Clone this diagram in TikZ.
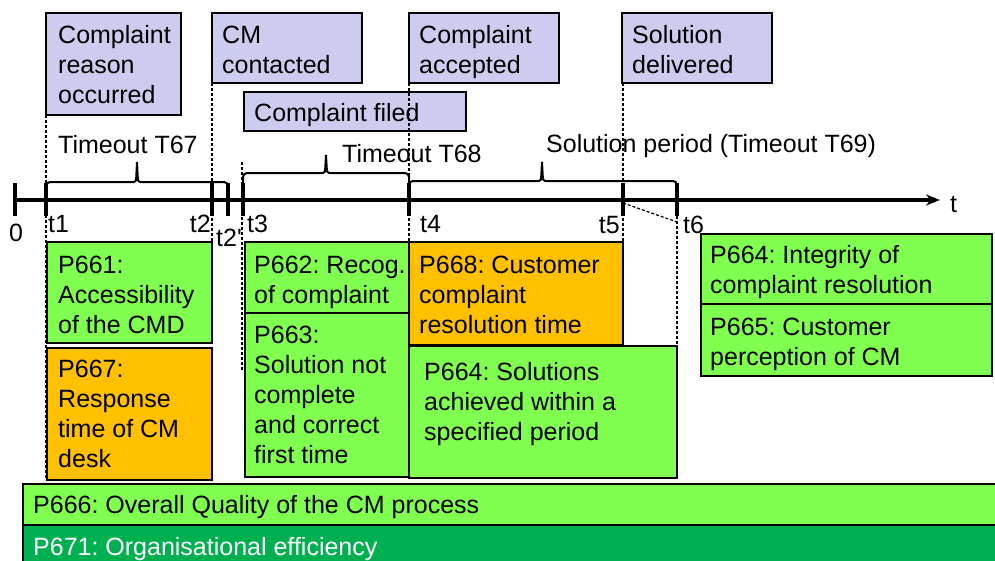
\documentclass[tikz,border=0pt]{standalone}
\usepackage{fontspec}
\setmainfont{Liberation Sans}
\usetikzlibrary{arrows.meta}
\definecolor{lav}{RGB}{204,204,238}
\definecolor{lgreen}{RGB}{128,255,80}
\definecolor{orng}{RGB}{255,192,0}
\definecolor{dgreen}{RGB}{0,176,80}
\frenchspacing
\newcommand{\mlines}[1]{\begin{tabular}[t]{@{}l@{}}#1\end{tabular}}
\newcommand{\tlbrace}[5]{%
  \draw[brc] (#1,200) -- (#1,#3+4) to[out=90,in=180] (#1+4,#3) -- (#4-3,#3)
    to[out=0,in=-90] (#4-0.8,#3-4) -- (#4,#5) -- (#4+0.8,#3-4)
    to[out=-90,in=180] (#4+3,#3) -- (#2-4,#3) to[out=0,in=90] (#2,#3+4) -- (#2,200);}
\begin{document}
\begin{tikzpicture}[x=1pt,y=-1pt,
  box/.style={draw=black, line width=2pt, anchor=north west, inner sep=0pt, outer sep=0pt},
  topbox/.style={box, fill=lav},
  gbox/.style={box, fill=lgreen},
  obox/.style={box, fill=orng},
  dbox/.style={box, fill=dgreen},
  txt/.style={anchor=base west, inner sep=0pt, font=\fontsize{25}{30}\selectfont\frenchspacing},
  txtr/.style={txt, anchor=base east},
  vdash/.style={line width=1.2pt, dash pattern=on 3pt off 2pt},
  brc/.style={line width=2pt},
  tickmark/.style={line width=4pt},
  axis/.style={line width=4pt, -{Stealth[length=14pt,width=11pt]}},
]
\useasboundingbox (0,0) rectangle (995,560);
\clip (0,0) rectangle (995,560);

% top event boxes
\node[topbox, minimum width=135, minimum height=102] (ev1) at (46,13) {};
\node[topbox, minimum width=150, minimum height=70] (ev2) at (212,13) {};
\node[topbox, minimum width=222, minimum height=39] (ev3) at (244,92) {};
\node[topbox, minimum width=150, minimum height=70] (ev4) at (409,13) {};
\node[topbox, minimum width=150, minimum height=70] (ev5) at (622,13) {};

% bottom boxes
\node[gbox, minimum width=165, minimum height=101] (p661) at (47,242) {};
\node[obox, minimum width=165, minimum height=132] (p667) at (47,348) {};
\node[gbox, minimum width=164, minimum height=71] (p662) at (245,242) {};
\node[gbox, minimum width=164, minimum height=164] (p663) at (245,313) {};
\node[obox, minimum width=214, minimum height=103] (p668) at (409,242) {};
\node[gbox, minimum width=268, minimum height=132] (p664s) at (409,346) {};
\node[gbox, minimum width=291, minimum height=70] (p664i) at (701,234) {};
\node[gbox, minimum width=291, minimum height=72] (p665) at (701,304) {};
\node[gbox, minimum width=990, minimum height=41] (p666) at (23,484) {};
\node[dbox, minimum width=990, minimum height=50] (p671) at (23,525) {};

% texts
\node[txt] (ev1t) at (58,43) {\mlines{Complaint\\reason\\occurred}};
\node[txt] (ev2t) at (222,43) {\mlines{CM\\contacted}};
\node[txt] (ev3t) at (254,121) {Complaint filed};
\node[txt] (ev4t) at (419,43) {\mlines{Complaint\\accepted}};
\node[txt] (ev5t) at (632,43) {\mlines{Solution\\delivered}};

\node[txt] (p661t) at (58,273) {\mlines{P661:\\Accessibility\\of the CMD}};
\node[txt] (p667t) at (58,377) {\mlines{P667:\\Response\\time of CM\\desk}};
\node[txt] (p662t) at (254,273) {\mlines{P662: Recog.\\of complaint}};
\node[txt] (p663t) at (254,343) {\mlines{P663:\\Solution not\\complete\\and correct\\first time}};
\node[txt] (p668t) at (419,273) {\mlines{P668: Customer\\complaint\\resolution time}};
\node[txt] (p664st) at (424,380) {\mlines{P664: Solutions\\achieved within a\\specified period}};
\node[txt] (p664it) at (710,263) {\mlines{P664: Integrity of\\complaint resolution}};
\node[txt] (p665t) at (710,335) {\mlines{P665: Customer\\perception of CM}};
\node[txt] (p666t) at (33,513) {P666: Overall Quality of the CM process};
\node[txt, text=white] (p671t) at (33,555) {P671: Organisational efficiency};

% dashed guide lines
\draw[vdash] (ev1.south west) -- ++(0,365);
\draw[vdash] (ev2.south west) -- ++(0,159);
\draw[vdash] (242,162) -- (242,370);
\draw[vdash] (ev4.south west) -- ++(0,159);
\draw[vdash] (623,83) -- (623,345);
\draw[vdash] (677,216) -- (677,346);
\coordinate (t5pt) at (623,203);
\coordinate (t6pt) at (677,222);
\draw[vdash] (t5pt) -- (t6pt);

% axis
\coordinate (ax0) at (15,200);
\coordinate (axend) at (940,200);
\draw[axis] (ax0) -- (axend);
\foreach \tx in {15,46,212,228,243,409,623,677}
  \draw[tickmark] (\tx,183) -- (\tx,216);

% braces
\tlbrace{46}{228}{182}{137}{162}
\tlbrace{243}{409}{173}{326}{155}
\tlbrace{409}{677}{181}{542}{162}

\node[txt] (lt67) at (58,153) {Timeout T67};
\node[txt] (lt68) at (342,162) {Timeout T68};
\node[txt] (lt69) at (546,152) {Solution period (Timeout T69)};

% axis labels
\node[txt] (l0) at (9,241) {0};
\node[txt] (l1) at (48,232) {t1};
\node[txtr] (l2) at (211,232) {t2};
\node[txt] (l2p) at (216,246) {t2\textquotesingle};
\node[txt] (l3) at (247,232) {t3};
\node[txt] (l4) at (420,232) {t4};
\node[txtr] (l5) at (620,233) {t5};
\node[txt] (l6) at (683,233) {t6};
\node[txt] (lt) at (950,212) {t};
\end{tikzpicture}
\end{document}
